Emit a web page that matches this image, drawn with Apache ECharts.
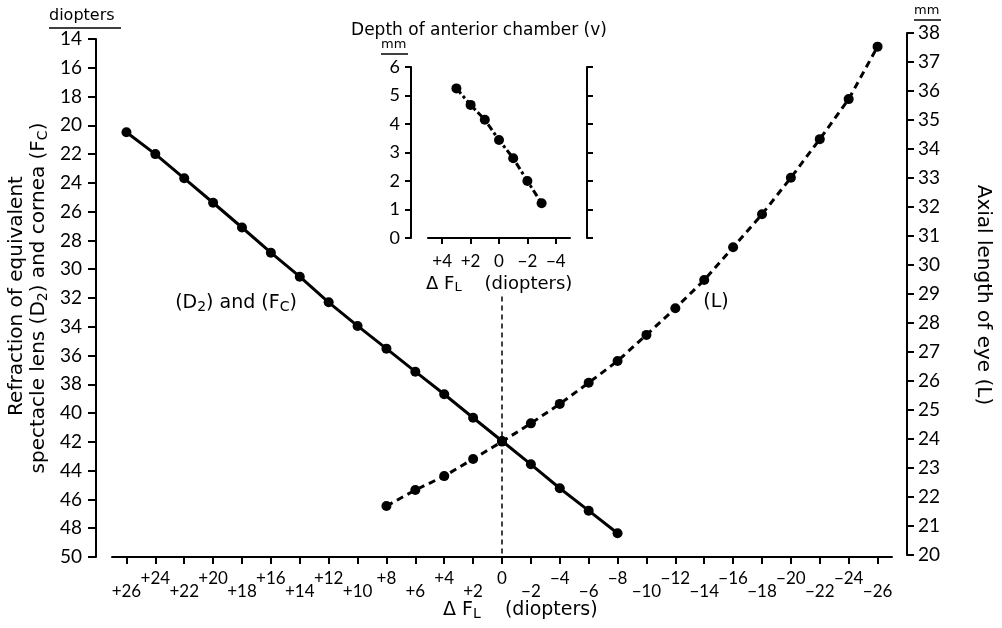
<!DOCTYPE html>
<html>
<head>
<meta charset="utf-8">
<script src="https://cdn.jsdelivr.net/npm/echarts@6/dist/echarts.min.js"></script>
<style>html,body{margin:0;padding:0;background:#fff}#c{width:1002px;height:628px}</style>
</head>
<body>
<div id="c"></div>
<script>
// ---- data ----
const d2Diopters = [26,24,22,20,18,16,14,12,10,8,6,4,2,0,-2,-4,-6,-8];
const d2Values   = [20.48,22.0,23.68,25.38,27.1,28.85,30.52,32.3,33.94,35.52,37.12,38.69,40.32,41.94,43.56,45.22,46.78,48.35];
const lDiopters  = [8,6,4,2,0,-2,-4,-6,-8,-10,-12,-14,-16,-18,-20,-22,-24,-26];
const lValues    = [21.69,22.24,22.72,23.31,23.91,24.54,25.21,25.94,26.69,27.59,28.51,29.48,30.61,31.75,33.01,34.34,35.72,37.53];
const insetDiopters = [3,2,1,0,-1,-2,-3];
const insetDepth    = [5.25,4.67,4.15,3.44,2.8,2.0,1.22];
const mainXTicks  = [26,24,22,20,18,16,14,12,10,8,6,4,2,0,-2,-4,-6,-8,-10,-12,-14,-16,-18,-20,-22,-24,-26];
const mainXHigh   = [24,20,16,12,8,4,0,-4,-8,-12,-16,-20,-24];
const mainXLow    = [26,22,18,14,10,6,2,-2,-6,-10,-14,-18,-22,-26];
const insetXTicks = [4,2,0,-2,-4];

const NUM = 'Lato';
const TXT = 'DejaVu Sans';
const fmt = v => v > 0 ? '+' + v : (v < 0 ? '\u2212' + (-v) : '0');
const black = '#000';
const pairs = (xs, ys) => xs.map((x, i) => [x, ys[i]]);

const chart = echarts.init(document.getElementById('c'), null, {renderer: 'canvas'});

const baseX = {
  type: 'value', min: -27, max: 27, inverse: true,
  splitLine: {show: false}
};
const subStyle = size => ({fontSize: size, fontFamily: TXT, fill: black, verticalAlign: 'bottom', padding: [8, 0, 0, 0]});

const option = {
  animation: false,
  backgroundColor: '#fff',
  textStyle: {fontFamily: NUM, color: black},
  grid: [
    {left: 112, right: 110, top: 39, bottom: 71},
    {left: 112, right: 110, top: 33, bottom: 73},
    {left: 428, right: 432, top: 67, bottom: 390}
  ],
  xAxis: [
    Object.assign({}, baseX, {
      gridIndex: 0, position: 'bottom',
      axisLine: {show: true, onZero: false, lineStyle: {color: black, width: 2}},
      axisTick: {show: true, length: 7, lineStyle: {color: black, width: 2}, customValues: mainXTicks},
      axisLabel: {show: true, customValues: mainXHigh, formatter: fmt, fontSize: 17, fontFamily: NUM, color: black, margin: 13}
    }),
    Object.assign({}, baseX, {gridIndex: 1, show: false}),
    Object.assign({}, baseX, {
      gridIndex: 0, position: 'bottom',
      axisLine: {show: false}, axisTick: {show: false},
      axisLabel: {show: true, customValues: mainXLow, formatter: fmt, fontSize: 17, fontFamily: NUM, color: black, margin: 26}
    }),
    {
      type: 'value', gridIndex: 2, min: -5, max: 5, inverse: true, position: 'bottom',
      splitLine: {show: false},
      axisLine: {show: true, onZero: false, lineStyle: {color: black, width: 2}},
      axisTick: {show: true, length: 6, lineStyle: {color: black, width: 2}, customValues: insetXTicks},
      axisLabel: {show: true, customValues: insetXTicks, formatter: fmt, fontSize: 17, fontFamily: NUM, color: black, margin: 15}
    }
  ],
  yAxis: [
    {
      type: 'value', gridIndex: 0, min: 14, max: 50, interval: 2, inverse: true, position: 'left', offset: 16,
      splitLine: {show: false},
      axisLine: {show: true, onZero: false, lineStyle: {color: black, width: 2}},
      axisTick: {show: true, length: 8, lineStyle: {color: black, width: 2}},
      axisLabel: {fontSize: 19, fontFamily: NUM, color: black, margin: 14}
    },
    {
      type: 'value', gridIndex: 1, min: 20, max: 38, interval: 1, position: 'right', offset: 15,
      splitLine: {show: false},
      axisLine: {show: true, onZero: false, lineStyle: {color: black, width: 2}},
      axisTick: {show: true, length: 7, lineStyle: {color: black, width: 2}},
      axisLabel: {fontSize: 19, fontFamily: NUM, color: black, margin: 11}
    },
    {
      type: 'value', gridIndex: 2, min: 0, max: 6, interval: 1, position: 'left', offset: 17,
      splitLine: {show: false},
      axisLine: {show: true, onZero: false, lineStyle: {color: black, width: 2}},
      axisTick: {show: true, length: 6, lineStyle: {color: black, width: 2}},
      axisLabel: {fontSize: 18, fontFamily: NUM, color: black, margin: 11}
    },
    {
      type: 'value', gridIndex: 2, min: 0, max: 6, interval: 1, position: 'right', offset: 17,
      splitLine: {show: false},
      axisLine: {show: true, onZero: false, lineStyle: {color: black, width: 2}},
      axisTick: {show: true, length: 6, lineStyle: {color: black, width: 2}},
      axisLabel: {show: false}
    }
  ],
  series: [
    {
      type: 'line', xAxisIndex: 0, yAxisIndex: 0, data: pairs(d2Diopters, d2Values),
      symbol: 'circle', symbolSize: 10, itemStyle: {color: black},
      lineStyle: {color: black, width: 3, type: 'solid'},
      markLine: {
        silent: true, symbol: 'none', label: {show: false},
        lineStyle: {color: black, width: 1.5, type: [5, 4]},
        data: [[{coord: [0, 31.9]}, {coord: [0, 50]}]]
      }
    },
    {
      type: 'line', xAxisIndex: 1, yAxisIndex: 1, data: pairs(lDiopters, lValues),
      symbol: 'circle', symbolSize: 10, itemStyle: {color: black},
      lineStyle: {color: black, width: 3, type: [7, 5]}
    },
    {
      type: 'line', xAxisIndex: 3, yAxisIndex: 2, data: pairs(insetDiopters, insetDepth),
      symbol: 'circle', symbolSize: 10, itemStyle: {color: black},
      lineStyle: {color: black, width: 3, type: [7, 3, 3, 3]},
      markLine: {
        silent: true, symbol: 'none', label: {show: false},
        lineStyle: {color: black, width: 1.5, type: [5, 4]},
        data: [[{coord: [0, 0]}, {coord: [0, 6.18]}]]
      }
    }
  ],
  graphic: [
    // top-left unit
    {type: 'text', left: 49, top: 8, style: {text: 'diopters', fontSize: 16, fontFamily: TXT, fill: black}},
    {type: 'line', shape: {x1: 49, y1: 28, x2: 121, y2: 28}, style: {stroke: black, lineWidth: 1.5}},
    // top-right unit
    {type: 'text', left: 914, top: 4, style: {text: 'mm', fontSize: 13, fontFamily: TXT, fill: black}},
    {type: 'line', shape: {x1: 914, y1: 20, x2: 941, y2: 20}, style: {stroke: black, lineWidth: 1.5}},
    // inset unit
    {type: 'text', left: 381, top: 38, style: {text: 'mm', fontSize: 13, fontFamily: TXT, fill: black}},
    {type: 'line', shape: {x1: 381, y1: 54, x2: 408, y2: 54}, style: {stroke: black, lineWidth: 1.5}},
    // inset title
    {type: 'text', x: 479, y: 31, style: {text: 'Depth of anterior chamber (v)', fontSize: 17, fontFamily: TXT, fill: black, align: 'center', verticalAlign: 'middle'}},
    // inset x name
    {type: 'text', x: 426, y: 284, style: {
      text: '\u0394 F{sub|L}    (diopters)', fontSize: 18, fontFamily: TXT, fill: black, verticalAlign: 'middle',
      rich: {sub: subStyle(13)}
    }},
    // main x name
    {type: 'text', x: 443, y: 610, style: {
      text: '\u0394 F{sub|L}    (diopters)', fontSize: 19, fontFamily: TXT, fill: black, verticalAlign: 'middle',
      rich: {sub: subStyle(14)}
    }},
    // left y title (two lines)
    {type: 'text', x: 17, y: 296, rotation: Math.PI / 2, style: {
      text: 'Refraction of equivalent', fontSize: 20, fontFamily: TXT, fill: black, align: 'center', verticalAlign: 'middle'
    }},
    {type: 'text', x: 39, y: 298, rotation: Math.PI / 2, style: {
      text: 'spectacle lens (D{sub|2}) and cornea (F{sub|C})', fontSize: 20, fontFamily: TXT, fill: black, align: 'center', verticalAlign: 'middle',
      rich: {sub: subStyle(14)}
    }},
    // right y title
    {type: 'text', x: 983, y: 295, rotation: -Math.PI / 2, style: {
      text: 'Axial length of eye (L)', fontSize: 20, fontFamily: TXT, fill: black, align: 'center', verticalAlign: 'middle'
    }},
    // series labels
    {type: 'text', x: 236, y: 303, style: {
      text: '(D{sub|2}) and (F{sub|C})', fontSize: 19, fontFamily: TXT, fill: black, align: 'center', verticalAlign: 'middle',
      rich: {sub: subStyle(14)}
    }},
    {type: 'text', x: 716, y: 302, style: {text: '(L)', fontSize: 19, fontFamily: TXT, fill: black, align: 'center', verticalAlign: 'middle'}}
  ]
};
chart.setOption(option);
</script>
</body>
</html>
